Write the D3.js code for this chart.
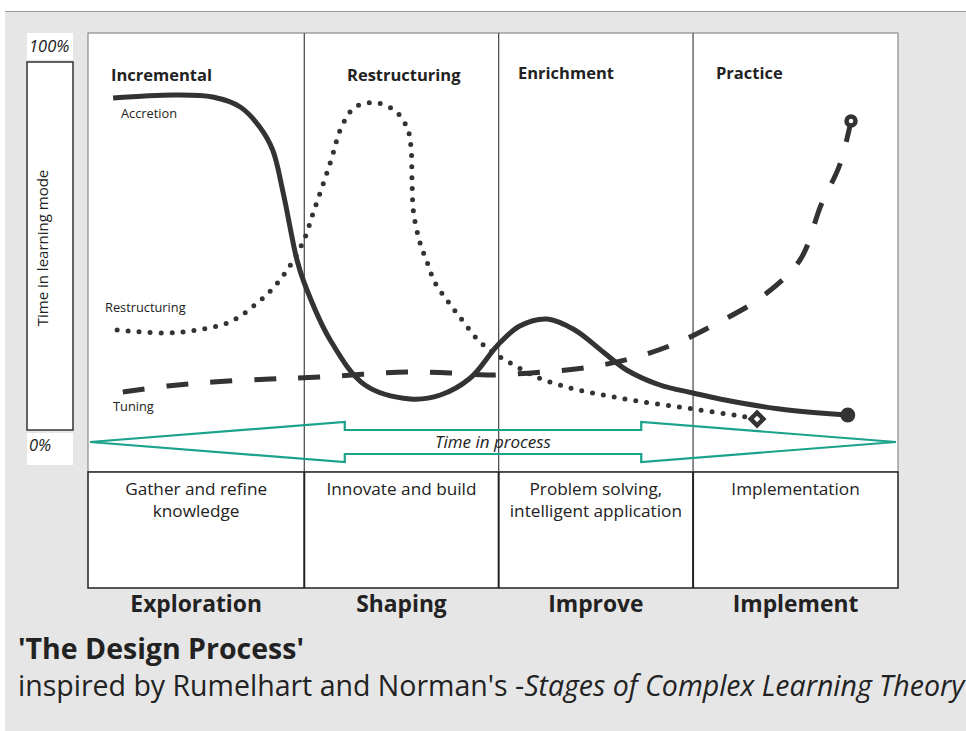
<!DOCTYPE html>
<html>
<head>
<meta charset="utf-8">
<script src="https://cdn.jsdelivr.net/npm/d3@7"></script>
<style>
  body { margin: 0; background: #fff; }
  text { font-family: "Open Sans", "Noto Sans", sans-serif; fill: #222; }
</style>
</head>
<body>
<svg id="chart" width="966" height="731"></svg>
<script>
// phases of the process (x in % of time in process)
const phaseBounds = [0, 26.7, 50.7, 74.7, 100]
const modeLabels = ["Incremental", "Restructuring", "Enrichment", "Practice"]
const activities = [["Gather and refine", "knowledge"], ["Innovate and build"],
                    ["Problem solving,", "intelligent application"], ["Implementation"]]
const stages = ["Exploration", "Shaping", "Improve", "Implement"]

// curves: [time in process, time in learning mode %]
const accretion = [[3.1, 86.75], [10.5, 87.5], [15.4, 87], [18.8, 84.5], [21.2, 79.5],
  [22.8, 73.75], [24.1, 63], [25.8, 46.25], [26.7, 40.5], [29.9, 26.25], [34.2, 15],
  [39.8, 11.5], [43.5, 12.5], [47.2, 16.75], [50.6, 25], [53.3, 29.75], [56.7, 31.5],
  [60.1, 28.75], [63.6, 23.25], [66.5, 18.75], [70.6, 15], [74.7, 13], [78.0, 11.5],
  [85.4, 9], [93.8, 7.5]]
const restructuring = [[3.6, 28.75], [9.3, 28], [13.5, 28.75], [17.5, 30.75], [20.9, 35.5],
  [23.7, 41.25], [26.5, 50.5], [27.8, 58], [29.9, 70.5], [31.4, 80], [33.0, 84.5],
  [35.7, 85.5], [38.1, 83.25], [39.5, 78.75], [39.9, 73.75], [40.0, 66.25], [40.2, 58],
  [41.0, 50.5], [41.9, 45.5], [42.8, 40.75], [44.3, 36.25], [45.9, 32], [48.4, 25.75],
  [50.5, 22.5], [53.0, 19.5], [55.4, 17], [59.5, 14.25], [63.6, 12.5], [67.8, 11],
  [74.7, 9], [80.5, 7.25], [82.6, 6.5]]
const tuning = [[4.3, 13.25], [9.8, 14.75], [15.4, 15.75], [22.5, 16.5], [28.6, 17],
  [39.4, 18.25], [44.7, 18], [49.3, 17.5], [56.2, 18.25], [62.0, 19.5], [67.3, 21.75],
  [72.7, 25.5], [77.7, 30.5], [83.0, 36.75], [87.9, 46.25], [90.5, 60], [92.8, 70], [94.2, 81]]

const svg = d3.select("#chart")
const x = d3.scaleLinear().domain([0, 100]).range([88, 898])
const y = d3.scaleLinear().domain([0, 100]).range([445, 45])
const ink = "#333"

// background
svg.append("rect").attr("x", 5).attr("y", 12).attr("width", 961).attr("height", 719).attr("fill", "#e6e6e6")
svg.append("line").attr("x1", 5).attr("x2", 966).attr("y1", 11.5).attr("y2", 11.5).attr("stroke", "#999")

// main boxes
svg.append("rect").attr("x", x(0)).attr("y", 33).attr("width", x(100) - x(0)).attr("height", 439)
  .attr("fill", "#fff").attr("stroke", "#777")
svg.append("rect").attr("x", x(0)).attr("y", 472).attr("width", x(100) - x(0)).attr("height", 116)
  .attr("fill", "#fff").attr("stroke", "#222").attr("stroke-width", 1.5)
phaseBounds.slice(1, -1).forEach(b => {
  svg.append("line").attr("x1", x(b)).attr("x2", x(b)).attr("y1", 33).attr("y2", 472)
    .attr("stroke", "#444").attr("stroke-width", 1.2)
  svg.append("line").attr("x1", x(b)).attr("x2", x(b)).attr("y1", 472).attr("y2", 588)
    .attr("stroke", "#222").attr("stroke-width", 2)
})

// y "axis"
svg.append("rect").attr("x", 27).attr("y", 62).attr("width", 46).attr("height", 368)
  .attr("fill", "#fff").attr("stroke", ink).attr("stroke-width", 1.5)
svg.append("rect").attr("x", 27).attr("y", 33).attr("width", 46).attr("height", 27).attr("fill", "#fff")
svg.append("rect").attr("x", 27).attr("y", 433).attr("width", 46).attr("height", 32).attr("fill", "#fff")
svg.append("text").attr("x", 29).attr("y", y(100) + 7).attr("font-size", 16.5).attr("font-style", "italic").text("100%")
svg.append("text").attr("x", 29).attr("y", y(0) + 6).attr("font-size", 16.5).attr("font-style", "italic").text("0%")
svg.append("text").attr("transform", "translate(48,248) rotate(-90)").attr("text-anchor", "middle")
  .attr("font-size", 15).text("Time in learning mode")

// learning mode headings
const modeX = [111, 347, 518, 716]
modeLabels.forEach((m, i) => {
  svg.append("text").attr("x", modeX[i]).attr("y", i < 2 ? 81 : 79)
    .attr("font-size", 16.5).attr("font-weight", "bold").text(m)
})

// process arrow
const arrow = [[0.25, 0.75], [31.7, 5.75], [31.7, 3.75], [68.3, 3.75], [68.3, 5.75], [99.75, 0.75],
  [68.3, -4.25], [68.3, -2.25], [31.7, -2.25], [31.7, -4.25]]
svg.append("path").attr("d", d3.line().x(d => x(d[0])).y(d => y(d[1]))(arrow) + "Z")
  .attr("fill", "none").attr("stroke", "#1aa38a").attr("stroke-width", 2.2)
svg.append("text").attr("x", x(50)).attr("y", 448).attr("text-anchor", "middle")
  .attr("font-size", 17).attr("font-style", "italic").text("Time in process")

// curves
const line = d3.line().x(d => x(d[0])).y(d => y(d[1])).curve(d3.curveCatmullRom.alpha(0.5))
svg.append("path").attr("d", line(tuning)).attr("fill", "none").attr("stroke", ink)
  .attr("stroke-width", 5).attr("stroke-dasharray", "22,22")
svg.append("path").attr("d", line(restructuring)).attr("fill", "none").attr("stroke", ink)
  .attr("stroke-width", 5).attr("stroke-linecap", "round").attr("stroke-dasharray", "0,11")
svg.append("path").attr("d", line(accretion)).attr("fill", "none").attr("stroke", ink)
  .attr("stroke-width", 5)

// end markers
const aEnd = accretion[accretion.length - 1]
svg.append("circle").attr("cx", x(aEnd[0])).attr("cy", y(aEnd[1])).attr("r", 7.5).attr("fill", ink)
const rEnd = restructuring[restructuring.length - 1]
svg.append("rect").attr("x", -4.5).attr("y", -4.5).attr("width", 9).attr("height", 9)
  .attr("transform", `translate(${x(rEnd[0])},${y(rEnd[1])}) rotate(45)`)
  .attr("fill", "#fff").attr("stroke", ink).attr("stroke-width", 4.5)
const tEnd = tuning[tuning.length - 1]
svg.append("circle").attr("cx", x(tEnd[0])).attr("cy", y(tEnd[1])).attr("r", 4.5)
  .attr("fill", "#fff").attr("stroke", ink).attr("stroke-width", 4.5)

// curve labels
svg.append("text").attr("x", 121).attr("y", 118).attr("font-size", 12.8).text("Accretion")
svg.append("text").attr("x", 105).attr("y", 312).attr("font-size", 12.8).text("Restructuring")
svg.append("text").attr("x", 113).attr("y", 411).attr("font-size", 12.8).text("Tuning")

// activities and stages
activities.forEach((lines, i) => {
  const cx = (x(phaseBounds[i]) + x(phaseBounds[i + 1])) / 2
  lines.forEach((t, j) => {
    svg.append("text").attr("x", cx).attr("y", 495 + j * 22).attr("text-anchor", "middle")
      .attr("font-size", 17.2).text(t)
  })
  svg.append("text").attr("x", cx).attr("y", 612).attr("text-anchor", "middle")
    .attr("font-size", 22.8).attr("font-weight", "bold").text(stages[i])
})

// title
svg.append("text").attr("x", 18).attr("y", 659).attr("font-size", 28.5).attr("font-weight", "bold")
  .text("'The Design Process'")
const sub = svg.append("text").attr("x", 18).attr("y", 696).attr("font-size", 28.5)
sub.append("tspan").text("inspired by Rumelhart and Norman's -")
sub.append("tspan").attr("font-style", "italic").text("Stages of Complex Learning Theory")
</script>
</body>
</html>
